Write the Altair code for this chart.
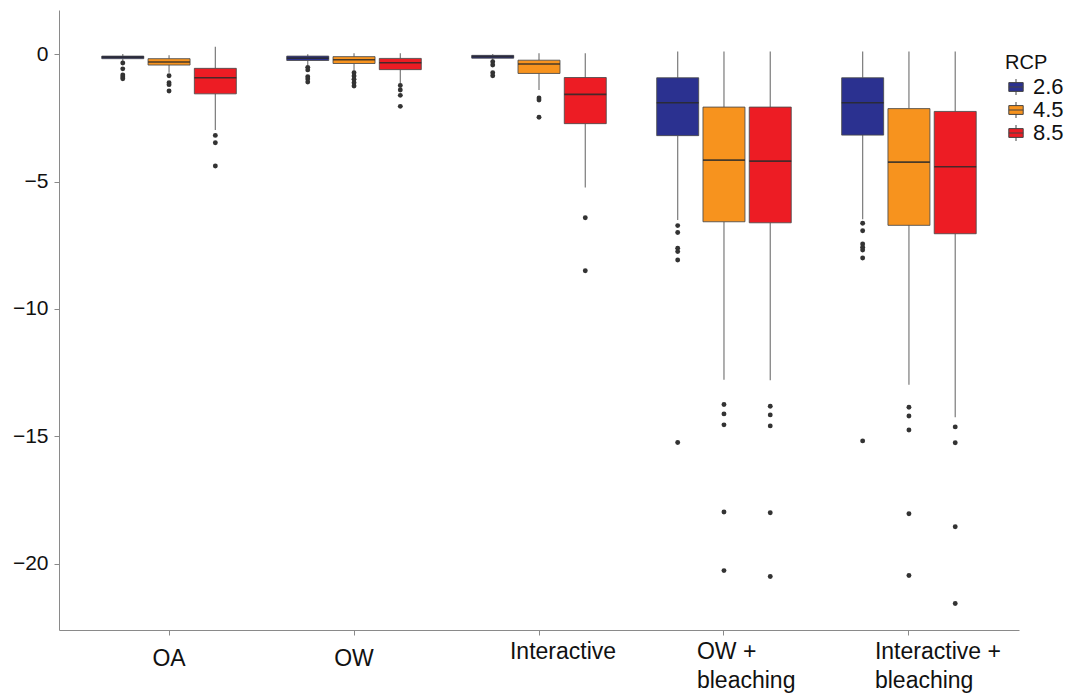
import altair as alt
import pandas as pd

groups = ["OA", "OW", "Interactive", "OW + bleaching", "Interactive + bleaching"]
rcps = ["2.6", "4.5", "8.5"]
colors = ["#2B3190", "#F7931E", "#ED1C24"]

# order: group-major, rcp-minor (2.6, 4.5, 8.5)
whisker_hi = [0.00, -0.05, 0.29,
              -0.01, 0.03, 0.03,
              0.00, 0.03, 0.03,
              0.10, 0.10, 0.10,
              0.10, 0.10, 0.10]
box_hi = [-0.08, -0.18, -0.56,
          -0.08, -0.10, -0.17,
          -0.05, -0.24, -0.92,
          -0.93, -2.08, -2.08,
          -0.93, -2.14, -2.25]
median = [-0.12, -0.31, -0.93,
          -0.16, -0.22, -0.34,
          -0.10, -0.39, -1.58,
          -1.91, -4.16, -4.20,
          -1.91, -4.24, -4.42]
box_lo = [-0.18, -0.43, -1.56,
          -0.25, -0.37, -0.61,
          -0.16, -0.76, -2.73,
          -3.20, -6.58, -6.62,
          -3.18, -6.72, -7.05]
whisker_lo = [-0.30, -0.73, -2.98,
              -0.43, -0.65, -1.15,
              -0.25, -1.41, -5.24,
              -6.51, -12.78, -12.80,
              -6.48, -12.98, -14.25]
outliers = [
    [-0.35, -0.58, -0.82, -0.90, -0.97],
    [-0.85, -1.12, -1.20, -1.45],
    [-3.19, -3.48, -4.39],
    [-0.52, -0.62, -0.89, -0.98, -1.10],
    [-0.73, -0.86, -0.99, -1.12, -1.25],
    [-1.23, -1.41, -1.62, -2.05],
    [-0.30, -0.43, -0.73, -0.85],
    [-1.72, -1.80, -2.48],
    [-6.42, -8.50],
    [-6.73, -7.00, -7.62, -7.75, -8.08, -15.24],
    [-13.75, -14.12, -14.55, -17.97, -20.27],
    [-13.82, -14.16, -14.59, -18.00, -20.50],
    [-6.64, -6.93, -7.45, -7.58, -7.69, -8.00, -15.18],
    [-13.86, -14.20, -14.75, -18.04, -20.46],
    [-14.63, -15.25, -18.55, -21.56],
]

rows = []
out_rows = []
k = 0
for g in groups:
    for r in rcps:
        rows.append(dict(group=g, rcp=r, whi=whisker_hi[k], bhi=box_hi[k],
                         med=median[k], blo=box_lo[k], wlo=whisker_lo[k]))
        for v in outliers[k]:
            out_rows.append(dict(group=g, rcp=r, value=v))
        k += 1
stats = pd.DataFrame(rows)
outs = pd.DataFrame(out_rows)

FONT = "Liberation Sans"

x_axis = alt.Axis(
    title=None, labelAngle=0, labelFontSize=23, labelLineHeight=29,
    labelFont=FONT, labelColor="#111", tickSize=5, domainColor="#8a8a8a",
    tickColor="#8a8a8a", grid=False,
    labelExpr="indexof(datum.label, 'bleaching') > 0 ? [replace(datum.label, ' bleaching', ''), 'bleaching'] : datum.label",
    labelAlign={"condition": {"test": "indexof(datum.value, 'bleaching') > 0", "value": "left"}, "value": "center"},
    labelOffset={"condition": [
        {"test": "datum.value == 'Interactive'", "value": 24},
        {"test": "datum.value == 'OW + bleaching'", "value": -27},
        {"test": "datum.value == 'Interactive + bleaching'", "value": -34}], "value": 0},
    labelPadding={"condition": {"test": "datum.value == 'OA' || datum.value == 'OW'", "value": 12}, "value": 5},
)
y_axis = alt.Axis(
    title=None, values=[0, -5, -10, -15, -20], labelFontSize=21, labelFont=FONT,
    labelColor="#111", tickSize=5, labelPadding=6, domainColor="#8a8a8a",
    tickColor="#8a8a8a", grid=False,
)
y_scale = alt.Scale(domain=[-22.6, 1.73], nice=False, zero=False)

X = alt.X("group:N", scale=alt.Scale(domain=groups, paddingOuter=0.095, paddingInner=0), axis=x_axis)
XO = alt.XOffset("rcp:N", scale=alt.Scale(domain=rcps, paddingInner=0.093, paddingOuter=0.545))

base = alt.Chart(stats)

wh_up = base.mark_rule(color="#7a7a7a", strokeWidth=1.2).encode(
    x=X, xOffset=XO, y=alt.Y("bhi:Q", scale=y_scale, axis=y_axis), y2="whi:Q")
wh_lo = base.mark_rule(color="#7a7a7a", strokeWidth=1.2).encode(
    x=X, xOffset=XO, y=alt.Y("wlo:Q", scale=y_scale, axis=y_axis), y2="blo:Q")

legend = alt.Legend(
    title="RCP", orient="none", legendX=946, legendY=43,
    titleFontSize=20, titleFont=FONT, titleFontWeight="normal", titleColor="#111",
    titlePadding=3, labelFontSize=22, labelFont=FONT, labelColor="#111",
    labelOffset=6, rowPadding=1,
    symbolType="M-0.9,-0.55H0.9V0.55H-0.9Z M-0.9,0H0.9 M0,-0.55V-1 M0,0.55V1",
    symbolSize=256, symbolStrokeColor="#444", symbolStrokeWidth=1,
)

boxes = base.mark_bar(stroke="#4a4a4a", strokeWidth=1, strokeOpacity=0.85).encode(
    x=X, xOffset=XO, y=alt.Y("bhi:Q", scale=y_scale, axis=y_axis), y2="blo:Q",
    color=alt.Color("rcp:N", scale=alt.Scale(domain=rcps, range=colors), legend=legend),
)

meds = base.mark_bar(fillOpacity=0, stroke="#2a2a2a", strokeWidth=1.6, strokeOpacity=0.85).encode(
    x=X, xOffset=XO, y=alt.Y("med:Q", scale=y_scale, axis=y_axis), y2="med:Q")

pts = alt.Chart(outs).mark_circle(size=24, color="#333333", opacity=1).encode(
    x=X, xOffset=XO, y=alt.Y("value:Q", scale=y_scale, axis=y_axis))

chart = alt.layer(wh_up, wh_lo, boxes, meds, pts).properties(
    width=960, height=620, autosize="none",
    padding={"left": 59, "top": 10, "right": 60, "bottom": 63},
).configure(background="white").configure_view(stroke=None)

chart.save("out.html", embed_options={"renderer": "svg", "actions": False})
